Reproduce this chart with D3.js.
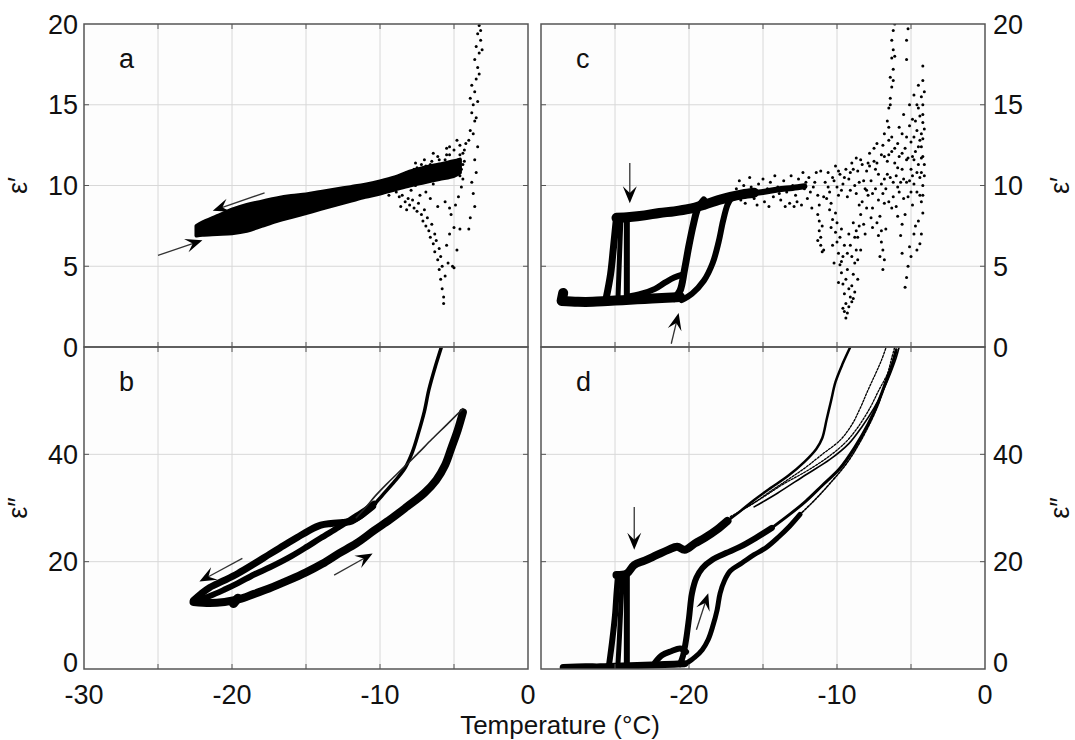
<!DOCTYPE html>
<html><head><meta charset="utf-8">
<script src="https://cdn.jsdelivr.net/npm/d3@7"></script>
<style>
html,body{margin:0;padding:0;background:#fff;}
svg{display:block;}
text{font-family:"Liberation Sans",Arial,Helvetica,sans-serif;fill:#111;}
</style></head>
<body><svg id="chart" width="1075" height="740"></svg>
<script>
// ---------------- DATA ----------------
const xTicksLeft = [-30, -20, -10, 0];
const xTicksRight = [-20, -10, 0];
const xGrid = [-25, -20, -15, -10, -5];
const yGridTop = [5, 10, 15];
const yGridBottom = [20, 40];
const yTicksTop = [0, 5, 10, 15, 20];
const yTicksBottom = [0, 20, 40];
const xLabel = "Temperature (\u00B0C)";
const yLabelTop = "\u03B5\u2032";
const yLabelBottom = "\u03B5\u2033";
const panelLetters = ["a", "b", "c", "d"];

// panel a : dense band (upper / lower edges) + scattered points
const aBandX  = [-22.4,-22,-21,-20,-19,-18,-17,-16,-15,-14,-13,-12,-11,-10,-9,-8,-7,-6,-5,-4.6];
const aBandHi = [7.5,7.7,8.1,8.5,8.8,9.0,9.2,9.35,9.45,9.6,9.75,9.9,10.05,10.25,10.5,10.85,11.1,11.3,11.5,11.6];
const aBandLo = [6.9,6.95,7.0,7.05,7.2,7.5,7.8,8.05,8.3,8.55,8.8,9.05,9.3,9.5,9.75,10.0,10.2,10.4,10.6,10.8];
const aScatter = [
[-8.9,9.6],[-8.7,9.3],[-8.5,9.4],[-8.3,9.0],[-8.1,9.2],[-8.0,8.8],[-7.8,9.1],[-7.7,8.6],[-7.5,8.4],[-7.4,8.9],
[-7.2,8.2],[-7.1,7.8],[-7.0,8.5],[-6.9,7.5],[-6.8,8.0],[-6.7,7.2],[-6.6,6.8],[-6.5,7.6],[-6.4,6.4],[-6.3,7.0],
[-6.3,5.9],[-6.2,6.6],[-6.1,5.4],[-6.0,6.1],[-6.0,4.8],[-5.9,5.6],[-5.9,4.2],[-5.8,3.6],[-5.8,5.0],[-5.7,3.1],
[-5.7,2.7],[-5.6,4.4],[-5.5,6.3],[-5.4,5.2],[-5.3,7.0],[-5.2,8.2],[-5.1,5.0],[-5.0,4.9],[-5.0,7.4],[-4.9,8.8],
[-4.8,6.0],[-4.7,9.3],[-4.6,7.3],[-4.5,9.9],[-6.6,9.2],[-6.1,8.7],[-5.6,9.0],[-5.3,8.6],[-6.9,9.6],[-7.9,9.7],
[-8.8,10.5],[-8.5,10.2],[-8.2,10.8],[-8.0,10.4],[-7.8,10.9],[-7.6,10.0],[-7.5,11.1],[-7.3,10.6],[-7.0,10.3],[-6.9,11.2],
[-6.7,10.8],[-6.5,11.5],[-6.4,10.1],[-6.2,11.0],[-6.0,11.6],[-5.9,10.5],[-5.7,11.2],[-5.5,11.9],[-5.4,10.8],[-5.2,11.4],
[-5.0,12.2],[-4.9,10.9],[-4.7,11.6],[-4.6,12.5],[-4.5,11.0],[-4.4,12.0],[-4.3,11.5],[-4.8,12.8],[-5.3,12.4],[-4.2,12.6],
[-8.6,10.0],[-8.4,10.6],[-8.2,10.1],[-7.9,10.6],[-7.7,11.0],[-7.4,10.4],[-7.2,11.3],[-6.8,10.5],[-6.6,11.3],[-6.3,10.7],
[-6.1,11.8],[-5.8,11.0],[-5.6,11.6],[-5.3,11.9],[-5.1,11.2],[-4.8,11.3],[-4.6,11.9],[-4.4,11.3],[-4.3,12.2],[-4.4,10.4],
[-4.6,10.6],[-5.5,12.3],[-6.4,12.0],[-7.0,11.6],[-7.6,11.4],[-9.4,9.4],[-9.2,9.9],[-8.6,8.7],[-8.2,8.5],[-7.3,9.4],
[-4.0,12.8],[-3.9,13.4],[-3.8,14.5],[-3.7,15.0],[-3.6,15.8],[-3.8,16.2],[-3.5,16.6],[-3.4,17.3],[-3.6,17.8],[-3.3,18.2],
[-3.5,18.6],[-3.2,19.0],[-3.4,19.4],[-3.3,19.9],[-3.1,18.4],[-3.3,16.9],[-3.9,15.4],[-3.5,14.2],[-3.7,13.2],[-3.4,12.4],
[-3.6,11.6],[-3.5,10.8],[-3.8,10.2],[-3.7,9.5],[-3.6,8.7],[-3.9,8.0],[-4.0,7.3],[-3.2,19.6],[-3.4,15.2],[-3.6,14.0]
];
const aArrows = [ [[-17.8,9.55],[-21.3,8.43]], [[-25.0,5.68],[-22.0,6.61]] ];

// panel b : loss curves (thick strokes)
const bSteep = [[-5.85,60],[-6.3,56],[-6.7,52],[-7.0,48],[-7.4,44],[-7.8,40.5],[-8.3,37.5],[-9.0,35],[-9.8,32.5],[-10.6,30],[-11.3,28.2],[-12.0,27.3],[-12.6,27.0]];
const bThin = [[-4.4,48.5],[-5.5,45.5],[-6.5,42.8],[-7.5,40],[-8.5,37.3],[-9.5,34.6],[-10.3,32.3],[-11.0,30.0],[-11.6,28.2]];
const bHeat = [[-22.6,12.5],[-21.5,12.3],[-20.5,12.5],[-19.5,13.0],[-18.5,14.0],[-17.5,15.0],[-16.2,16.5],[-15,18.0],[-13.9,19.6],[-12.8,21.5],[-11.6,23.4],[-10.4,25.8],[-9.3,27.9],[-8.2,30.2],[-7.0,32.8],[-6.2,35.2],[-5.6,38.0],[-5.15,41.4],[-4.75,44.5],[-4.4,47.8]];
const bCool = [[-10.5,30.3],[-11.2,28.8],[-11.9,27.6],[-12.5,27.3],[-13.3,27.1],[-14.0,26.8],[-14.8,25.8],[-15.6,24.5],[-16.5,23.0],[-17.4,21.5],[-18.5,19.6],[-19.6,17.8],[-20.6,16.4],[-21.5,15.2],[-22.1,14.0],[-22.6,12.8]];
const bMiddle = [[-22.4,12.8],[-21.5,13.6],[-20.5,14.8],[-19.6,16.0],[-18.5,17.6],[-17.4,19.0],[-16.2,20.7],[-15.1,22.5],[-14.0,24.4],[-12.8,26.4],[-11.9,28.0],[-11.0,29.6],[-10.4,30.8]];
const bBlob = [[-19.9,12.2],[-19.6,13.2]];
const bArrows = [ [[-19.3,20.6],[-22.2,16.3]], [[-13.1,17.5],[-10.5,21.5]] ];

// panel c
const cPlateau = [[-28.6,2.85],[-27.5,2.8],[-26.5,2.8],[-25.5,2.85],[-24.5,2.9],[-23.5,2.95],[-22.5,3.0],[-21.5,3.05],[-20.6,3.1]];
const cStart = [[-28.6,2.9],[-28.5,3.35]];
const cBump = [[-24.2,3.1],[-23.2,3.3],[-22.3,3.6],[-21.6,4.0],[-21.0,4.3],[-20.4,4.5]];
const cJump1 = [[-25.6,3.0],[-25.3,4.5],[-25.1,6.2],[-24.9,8.0]];
const cJump2 = [[-24.8,3.0],[-24.7,5.5],[-24.6,8.0]];
const cJump3 = [[-24.2,3.0],[-24.2,5.5],[-24.2,8.0]];
const cUpper = [[-24.9,8.0],[-24,8.05],[-23,8.15],[-22,8.3],[-21,8.4],[-20,8.55],[-19,8.8],[-18,9.1],[-17.2,9.3],[-16.4,9.45],[-15.6,9.55]];
const cUpperThin = [[-15.6,9.55],[-15,9.6],[-14,9.75],[-13,9.85],[-12.2,9.95]];
const cRise1 = [[-21.0,3.0],[-20.6,3.5],[-20.3,4.8],[-20.0,6.3],[-19.7,7.6],[-19.4,8.6],[-19.0,9.1]];
const cRise2 = [[-20.5,2.9],[-19.8,3.3],[-19.0,4.1],[-18.4,5.2],[-18.0,6.5],[-17.7,7.8],[-17.4,8.8],[-17.1,9.3]];
const cScatter = [
[-16.8,9.8],[-16.5,9.1],[-16.3,10.0],[-16.0,9.4],[-15.8,9.9],[-15.6,9.2],[-15.3,10.1],[-15.1,9.5],[-14.9,9.0],[-14.7,9.8],
[-14.5,10.2],[-14.3,9.3],[-14.0,9.9],[-13.8,9.1],[-13.6,10.3],[-13.4,9.6],[-13.2,8.9],[-13.0,10.0],[-12.8,9.4],[-12.6,10.4],
[-12.4,8.8],[-12.2,9.8],[-12.0,9.2],[-11.9,10.5],[-11.7,8.6],[-11.6,9.9],[-11.4,10.8],[-11.3,9.4],[-12.9,8.7],[-12.1,10.2],
[-16.6,10.3],[-16.2,8.9],[-15.9,10.5],[-15.4,8.8],[-15.0,10.4],[-14.6,8.7],[-14.2,10.6],[-13.9,9.5],[-13.5,8.7],[-13.1,10.6],
[-12.7,9.0],[-12.3,10.8],[-11.8,9.6],[-11.5,10.2],[-11.1,10.9],[-10.9,9.3],[-10.6,9.9],[-10.2,10.3],[-9.9,10.9],[-9.7,9.7],
[-9.5,10.5],[-9.3,9.3],[-9.1,10.8],[-8.9,11.0],[-8.7,11.7],[-8.5,10.2],[-8.3,11.3],[-8.1,9.8],[-7.8,11.2],[-7.6,9.5],
[-11.3,8.2],[-11.2,7.8],[-11.2,7.2],[-11.1,6.8],[-11.1,6.3],[-11.0,5.9],[-11.2,8.8],[-11.0,7.5],[-10.9,6.0],[-11.3,6.6],
[-10.8,10.2],[-10.6,10.8],[-10.5,9.6],[-10.3,10.5],[-10.1,11.2],[-10.0,9.9],[-9.8,10.7],[-9.6,10.1],[-9.4,11.0],[-9.2,10.4],
[-9.0,11.4],[-8.8,10.0],[-8.6,10.9],[-8.4,11.6],[-8.2,10.3],[-10.7,9.2],[-10.4,8.9],[-9.9,9.4],[-9.1,9.7],[-8.7,9.5],
[-10.5,8.5],[-10.3,7.9],[-10.1,7.1],[-10.0,6.5],[-9.9,5.8],[-9.8,5.1],[-9.7,4.6],[-9.6,3.9],[-9.5,3.3],[-9.4,2.7],
[-9.3,2.1],[-9.2,2.5],[-9.1,3.1],[-9.0,3.8],[-8.9,4.5],[-8.8,5.2],[-8.7,6.0],[-8.6,6.8],[-8.5,7.5],[-8.4,8.2],
[-8.3,9.0],[-9.6,5.6],[-9.9,4.0],[-9.3,4.8],[-9.0,5.6],[-8.8,3.4],[-9.5,6.3],[-9.2,7.0],[-8.9,7.7],[-9.7,7.3],
[-10.2,5.2],[-8.6,4.2],[-9.4,1.8],[-9.6,2.4],[-9.2,3.6],[-9.8,6.8],[-10.0,7.7],[-10.4,7.4],[-9.1,6.3],[-8.8,6.8],
[-8.6,5.4],[-9.4,4.2],[-9.7,5.3],[-9.0,2.8],[-9.5,2.2],[-8.9,3.0],[-10.3,6.3],[-9.3,5.8],[-8.7,7.2],[-8.4,6.0],
[-8.1,7.0],[-10.1,8.3],
[-8.0,10.9],[-7.9,9.4],[-7.8,12.0],[-7.7,10.3],[-7.6,8.6],[-7.5,11.5],[-7.4,9.8],[-7.3,12.6],[-7.2,10.7],[-7.1,8.1],
[-7.0,11.9],[-6.9,9.5],[-6.8,13.2],[-6.8,10.4],[-6.7,7.3],[-6.6,11.5],[-6.5,9.0],[-6.5,12.8],[-7.9,11.4],[-7.4,11.0],
[-7.5,12.3],[-7.3,11.4],[-7.2,9.1],[-7.0,10.1],[-6.9,12.5],[-6.8,11.8],[-6.7,9.8],[-6.6,10.7],[-6.5,11.9],[-6.4,10.5],
[-6.3,12.1],[-6.2,9.3],[-6.1,11.4],[-6.0,10.6],[-5.9,12.6],[-5.8,11.8],[-5.7,10.2],[-5.6,13.2],[-5.5,9.2],[-5.4,12.3],
[-5.3,10.2],[-5.2,11.7],[-5.1,13.7],[-5.0,9.6],[-4.9,10.6],[-4.8,11.6],[-4.7,14.0],[-4.6,10.8],[-4.5,12.4],[-4.4,9.4],
[-4.3,11.7],[-4.2,12.9],[-4.1,10.6],[-4.1,13.5],[-4.1,15.8],[-4.1,11.3],[-4.5,7.8],[-4.8,7.0],[-5.6,7.6],[-5.9,8.1],
[-6.3,8.6],[-6.8,8.9],[-7.0,7.2],[-7.7,8.0],[-8.5,8.8],[-8.0,9.7],
[-6.6,14.0],[-6.5,14.8],[-6.4,15.4],[-6.3,16.1],[-6.4,16.7],[-6.2,17.2],[-6.3,17.9],[-6.2,18.4],[-6.3,19.0],[-6.2,19.6],
[-6.1,20.0],[-6.4,15.0],[-6.2,16.5],[-6.1,18.0],[-5.2,19.7],[-5.3,19.0],[-5.3,17.8],[-6.5,13.6],[-6.3,13.0],
[-6.2,10.2],[-6.1,12.3],[-6.0,8.7],[-5.9,11.1],[-5.8,13.6],[-5.8,9.6],[-5.7,6.9],[-5.6,12.0],[-5.5,10.4],[-5.5,14.4],
[-5.4,8.2],[-5.3,11.6],[-5.3,13.0],[-5.2,9.3],[-5.1,15.0],[-5.1,6.2],[-5.0,11.0],[-5.0,12.7],[-4.9,8.8],[-4.9,14.1],
[-4.8,10.1],[-4.8,15.6],[-4.7,7.5],[-4.7,12.1],[-4.6,13.4],[-4.6,9.6],[-4.5,11.3],[-4.5,14.8],[-4.4,10.5],[-4.4,12.8],
[-4.3,9.0],[-4.3,15.5],[-4.2,17.4],[-4.2,16.5],[-4.2,11.8],[-4.2,13.9],[-4.2,8.3],[-4.3,7.0],[-4.4,6.4],[-4.6,6.0],
[-5.2,5.0],[-5.3,4.3],[-5.4,3.7],[-5.0,5.6],[-5.6,5.8],[-4.5,16.2],[-4.6,15.0],[-4.8,13.0],[-4.4,14.3],[-4.2,10.0],
[-4.3,12.4],[-4.2,15.0],[-4.2,14.4],[-4.3,13.2],[-4.2,9.4],[-4.3,10.8],[-4.9,11.8],[-5.1,10.3],[-5.6,11.0],[-5.9,9.9],
[-7.3,7.7],[-7.2,6.9],[-7.0,6.5],[-6.9,6.0],[-6.8,5.4],[-6.9,4.8],[-7.1,5.6],[-7.6,7.4],[-8.0,8.6],[-8.2,7.6]
];
const cArrows = [ [[-24.0,11.4],[-24.0,8.9]], [[-21.2,0.2],[-20.7,2.1]] ];

// panel d
const dPlateau = [[-28.5,0.3],[-27,0.4],[-26,0.4],[-25,0.5],[-24,0.6],[-23,0.7],[-22,0.8],[-21,0.9],[-20.3,1.0]];
const dBump = [[-22.3,1.2],[-21.8,2.6],[-21.2,3.3],[-20.6,3.8],[-20.2,3.2]];
const dJump1 = [[-25.4,0.8],[-25.2,5],[-25.0,10],[-24.9,14],[-24.8,17.3]];
const dJump2 = [[-24.8,0.8],[-24.7,6],[-24.6,12],[-24.5,17.3]];
const dJump3 = [[-24.2,0.8],[-24.2,9],[-24.2,17.5]];
const dUpper = [[-24.9,17.5],[-24.2,17.8],[-23.7,19.4],[-23.0,20.2],[-22.2,21.2],[-21.4,22.2],[-20.8,22.8],[-20.3,22.2],[-19.6,23.4],[-18.9,24.5],[-18.1,26.0],[-17.4,27.6]];
const dUpperThin = [[-17.4,27.6],[-16.5,29.5],[-15.6,31.5],[-14.5,33.7],[-13.3,36.0],[-12.2,38.6],[-11.4,41.0],[-11.0,43.0],[-10.7,46.5],[-10.4,50],[-10.1,53.5],[-9.6,57],[-9.1,60]];
const dThinA = [[-17.2,28.4],[-15.8,30.6],[-14.4,33.3],[-13.2,35.5],[-12.1,37.6],[-11,40],[-9.8,42.6],[-9.0,45.5],[-8.4,48.8],[-7.9,52],[-7.4,55],[-7.0,57.5],[-6.7,59.8]];
const dThinB = [[-16.5,29.5],[-15.0,32.0],[-13.6,34.5],[-12.1,36.8],[-10.6,39.5],[-9.4,42.3],[-8.6,45.0],[-7.8,48.5],[-7.2,51.8],[-6.6,55],[-6.3,58],[-6.1,60]];
const dThinC = [[-15.6,30.2],[-14.0,32.8],[-12.1,36.2],[-10.5,39.0],[-9.2,42.0],[-8.3,45.2],[-7.5,48.6],[-6.9,51.8],[-6.4,55],[-6.0,58],[-5.8,60]];
const dHeat1 = [[-20.6,0.9],[-20.4,2.5],[-20.2,5.4],[-20.0,9.5],[-19.8,14.1],[-19.5,17.0],[-19.1,18.8],[-18.4,20.4],[-17.5,21.6],[-16.6,22.7],[-15.5,24.4],[-14.4,26.3]];
const dHeat1Thin = [[-14.4,26.3],[-13.2,28.8],[-12.1,31.3],[-11.0,34.2],[-9.8,37.4],[-8.8,41.3],[-7.9,45.6],[-7.2,49.8],[-6.7,53.5],[-6.3,56.5],[-6.0,59.5]];
const dHeat2 = [[-20.2,1.0],[-19.6,2.2],[-19.1,3.6],[-18.7,5.5],[-18.4,7.9],[-18.1,11.0],[-17.9,14.1],[-17.6,16.5],[-17.2,18.3],[-16.4,19.8],[-15.6,21.3],[-14.8,22.6],[-13.95,24.6],[-13.2,26.6],[-12.5,28.8]];
const dHeat2Thin = [[-12.5,28.8],[-11.5,31.5],[-10.5,34.5],[-9.3,38.5],[-8.4,42.5],[-7.4,48.0],[-6.8,52.5],[-6.3,56.5],[-6.0,59]];
const dArrows = [ [[-23.7,30.2],[-23.7,22.2]], [[-19.5,7.3],[-18.7,14.1]] ];

// ---------------- LAYOUT ----------------
const svg = d3.select("#chart");
const FONT = 27;
const L = {x0: 84, x1: 528}, R = {x0: 541, x1: 985};
const T = {y0: 347, y1: 24}, B = {y0: 669, y1: 347};

const xL = d3.scaleLinear().domain([-30, 0]).range([L.x0, L.x1]);
const xR = d3.scaleLinear().domain([-30, 0]).range([R.x0, R.x1]);
const yT = d3.scaleLinear().domain([0, 20]).range([T.y0, T.y1]);
const yB = d3.scaleLinear().domain([0, 60]).range([B.y0, B.y1]);

svg.append("rect").attr("width",1075).attr("height",740).attr("fill","#fff");

const panels = [
  {x: xL, y: yT, letter: panelLetters[0], yt: yTicksTop, yg: yGridTop, side: "left", bottom: false},
  {x: xL, y: yB, letter: panelLetters[1], yt: yTicksBottom, yg: yGridBottom, side: "left", bottom: true},
  {x: xR, y: yT, letter: panelLetters[2], yt: yTicksTop, yg: yGridTop, side: "right", bottom: false},
  {x: xR, y: yB, letter: panelLetters[3], yt: yTicksBottom, yg: yGridBottom, side: "right", bottom: true}
];

panels.forEach((p, i) => {
  const [xa, xb] = p.x.range(); const [ya, yb] = p.y.range();
  const g = svg.append("g");
  g.append("rect").attr("x", xa).attr("y", yb).attr("width", xb - xa).attr("height", ya - yb).attr("fill", "#fdfdfd");
  g.selectAll(null).data(xGrid).enter().append("line")
    .attr("x1", d => p.x(d)).attr("x2", d => p.x(d)).attr("y1", ya).attr("y2", yb)
    .attr("stroke", "#d8d8d8").attr("stroke-width", 1);
  g.selectAll(null).data(p.yg).enter().append("line")
    .attr("x1", xa).attr("x2", xb).attr("y1", d => p.y(d)).attr("y2", d => p.y(d))
    .attr("stroke", "#d8d8d8").attr("stroke-width", 1);
  svg.append("clipPath").attr("id", "clip" + i).append("rect")
    .attr("x", xa).attr("y", yb).attr("width", xb - xa).attr("height", ya - yb);
  p.m = svg.append("g").attr("clip-path", `url(#clip${i})`);
});

// ---------------- MARKS ----------------
function drawLine(p, data, w, opts = {}) {
  const line = d3.line().x(d => p.x(d[0])).y(d => p.y(d[1])).curve(d3.curveCatmullRom.alpha(0.5));
  const path = p.m.append("path").attr("d", line(data)).attr("fill", "none")
    .attr("stroke", opts.color || "#000").attr("stroke-width", w)
    .attr("stroke-linecap", "round").attr("stroke-linejoin", "round");
  if (opts.dash) path.attr("stroke-dasharray", opts.dash);
}
function drawDots(p, data, r) {
  p.m.selectAll(null).data(data).enter().append("circle")
    .attr("cx", d => p.x(d[0])).attr("cy", d => p.y(d[1])).attr("r", r).attr("fill", "#000");
}
function drawArrow(p, a) {
  const x0 = p.x(a[0][0]), y0 = p.y(a[0][1]), x1 = p.x(a[1][0]), y1 = p.y(a[1][1]);
  const dx = x1 - x0, dy = y1 - y0, len = Math.hypot(dx, dy);
  const ux = dx / len, uy = dy / len, nx = -uy, ny = ux;
  const Lh = 17, Wh = 7;
  svg.append("line").attr("x1", x0).attr("y1", y0).attr("x2", x1 - ux * 8).attr("y2", y1 - uy * 8)
    .attr("stroke", "#333").attr("stroke-width", 1.3);
  const pts = [[x1, y1], [x1 - ux * Lh + nx * Wh, y1 - uy * Lh + ny * Wh], [x1 - ux * Lh * 0.6, y1 - uy * Lh * 0.6], [x1 - ux * Lh - nx * Wh, y1 - uy * Lh - ny * Wh]];
  svg.append("polygon").attr("points", pts.map(q => q.join(",")).join(" ")).attr("fill", "#000");
}

// panel a
{
  const p = panels[0];
  const area = d3.area().x((d, i) => p.x(aBandX[i])).y0((d, i) => p.y(aBandLo[i])).y1((d, i) => p.y(aBandHi[i])).curve(d3.curveCatmullRom);
  p.m.append("path").attr("d", area(aBandX)).attr("fill", "#000").attr("stroke", "#000").attr("stroke-width", 4).attr("stroke-linejoin", "round");
  drawDots(p, aScatter, 1.5);
  aArrows.forEach(a => drawArrow(p, a));
}
// panel b
{
  const p = panels[1];
  drawLine(p, bHeat, 8);
  drawLine(p, bCool, 7);
  drawLine(p, bMiddle, 6);
  drawLine(p, bSteep, 3.5);
  drawLine(p, bThin, 1.6, {color: "#222"});
  drawLine(p, bBlob, 9);
  bArrows.forEach(a => drawArrow(p, a));
}
// panel c
{
  const p = panels[2];
  drawLine(p, cPlateau, 10);
  drawLine(p, cStart, 10);
  drawLine(p, cBump, 6);
  drawLine(p, cJump1, 7);
  drawLine(p, cJump2, 5);
  drawLine(p, cJump3, 6);
  drawLine(p, cUpper, 10);
  drawLine(p, cUpperThin, 6);
  drawLine(p, cRise1, 7);
  drawLine(p, cRise2, 6);
  drawDots(p, cScatter, 1.5);
  cArrows.forEach(a => drawArrow(p, a));
}
// panel d
{
  const p = panels[3];
  drawLine(p, dPlateau, 7);
  drawLine(p, dBump, 6);
  drawLine(p, dJump1, 6);
  drawLine(p, dJump2, 5);
  drawLine(p, dJump3, 6);
  drawLine(p, dUpper, 8);
  drawLine(p, dUpperThin, 2.5);
  drawLine(p, dThinA, 1.3, {dash: "2,1.5"});
  drawLine(p, dThinB, 1.3, {dash: "2,1.5"});
  drawLine(p, dThinC, 1.6);
  drawLine(p, dHeat1, 6);
  drawLine(p, dHeat1Thin, 3);
  drawLine(p, dHeat2, 5);
  drawLine(p, dHeat2Thin, 1.6, {dash: "2,1.5"});
  dArrows.forEach(a => drawArrow(p, a));
}

// ---------------- AXES / FRAMES ----------------
panels.forEach((p, i) => {
  const [xa, xb] = p.x.range(); const [ya, yb] = p.y.range();
  const g = svg.append("g");
  g.append("rect").attr("x", xa).attr("y", yb).attr("width", xb - xa).attr("height", ya - yb)
    .attr("fill", "none").attr("stroke", "#555").attr("stroke-width", 1.5);
  const tk = 5;
  xGrid.forEach(v => {
    g.append("line").attr("x1", p.x(v)).attr("x2", p.x(v)).attr("y1", ya).attr("y2", ya - tk).attr("stroke", "#555");
    g.append("line").attr("x1", p.x(v)).attr("x2", p.x(v)).attr("y1", yb).attr("y2", yb + tk).attr("stroke", "#555");
  });
  p.yg.forEach(v => {
    g.append("line").attr("x1", xa).attr("x2", xa + tk).attr("y1", p.y(v)).attr("y2", p.y(v)).attr("stroke", "#555");
    g.append("line").attr("x1", xb).attr("x2", xb - tk).attr("y1", p.y(v)).attr("y2", p.y(v)).attr("stroke", "#555");
  });
  const left = p.side === "left";
  g.selectAll(null).data(p.yt).enter().append("text")
    .attr("x", left ? xa - 6 : xb + 8).attr("y", d => p.y(d))
    .attr("dy", d => (p.bottom && d === 0) ? "0.12em" : "0.36em")
    .attr("text-anchor", left ? "end" : "start")
    .attr("font-size", FONT).text(d => d);
  g.append("text").attr("x", xa + 35).attr("y", yb + 44).attr("font-size", FONT).text(p.letter);
});

// x tick labels
svg.selectAll(null).data(xTicksLeft).enter().append("text")
  .attr("x", d => xL(d)).attr("y", 704).attr("text-anchor", "middle").attr("font-size", FONT).text(d => d);
svg.selectAll(null).data(xTicksRight).enter().append("text")
  .attr("x", d => xR(d)).attr("y", 704).attr("text-anchor", "middle").attr("font-size", FONT).text(d => d);

// axis titles
svg.append("text").attr("x", 560).attr("y", 733.5).attr("text-anchor", "middle").attr("font-size", 26).text(xLabel);
[[18, (T.y0 + T.y1) / 2, yLabelTop], [18, (B.y0 + B.y1) / 2, yLabelBottom],
 [1060, (T.y0 + T.y1) / 2, yLabelTop], [1060, (B.y0 + B.y1) / 2, yLabelBottom]].forEach(([x, y, t]) => {
  svg.append("text").attr("transform", `translate(${x},${y}) rotate(-90)`)
    .attr("text-anchor", "middle").attr("dy", "0.35em").attr("font-size", FONT).text(t);
});
</script></body></html>
